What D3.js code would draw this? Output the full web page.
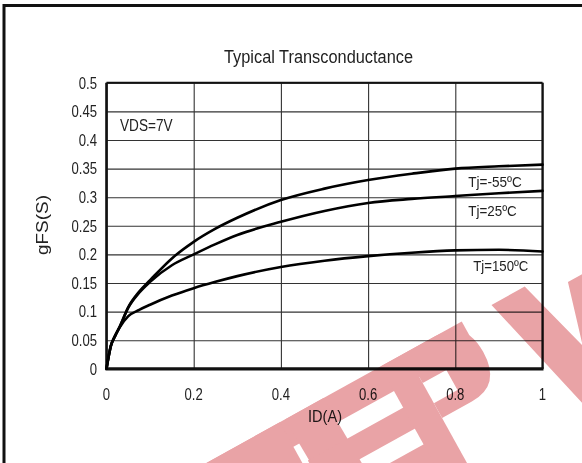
<!DOCTYPE html>
<html>
<head>
<meta charset="utf-8">
<script src="https://cdn.jsdelivr.net/npm/d3@7"></script>
<style>
html,body{margin:0;padding:0;background:#fff;}
svg{display:block;}
text{font-family:"Liberation Sans",Arial,sans-serif;fill:#222;}
</style>
</head>
<body>
<svg id="chart" width="582" height="463"></svg>
<script>
// ---- data ----
const idValues   = [0, 0.01, 0.02, 0.03, 0.05, 0.075, 0.1, 0.15, 0.2, 0.25, 0.3, 0.4, 0.5, 0.6, 0.7, 0.8, 0.9, 1.0];
const gfsTjM55   = [0, 0.040, 0.058, 0.073, 0.108, 0.135, 0.155, 0.193, 0.222, 0.245, 0.264, 0.295, 0.315, 0.330, 0.341, 0.350, 0.354, 0.357];
const gfsTj25    = [0, 0.040, 0.058, 0.073, 0.107, 0.133, 0.152, 0.181, 0.200, 0.218, 0.234, 0.257, 0.276, 0.290, 0.297, 0.302, 0.307, 0.311];
const gfsTj150   = [0, 0.040, 0.058, 0.072, 0.092, 0.103, 0.112, 0.128, 0.141, 0.152, 0.162, 0.178, 0.189, 0.197, 0.203, 0.207, 0.208, 0.205];
const seriesNames = ["Tj=-55ºC", "Tj=25ºC", "Tj=150ºC"];
const xTickValues = [0, 0.2, 0.4, 0.6, 0.8, 1];
const xTickLabels = ["0", "0.2", "0.4", "0.6", "0.8", "1"];
const yTickValues = [0, 0.05, 0.1, 0.15, 0.2, 0.25, 0.3, 0.35, 0.4, 0.45, 0.5];
const yTickLabels = ["0", "0.05", "0.1", "0.15", "0.2", "0.25", "0.3", "0.35", "0.4", "0.45", "0.5"];
const chartTitle = "Typical Transconductance";
const xTitle = "ID(A)";
const yTitle = "gFS(S)";
const condition = "VDS=7V";

// ---- layout ----
const svg = d3.select("#chart");
const L = 106.5, R = 542.5, T = 82.8, B = 368.8;
const x = d3.scaleLinear().domain([0, 1]).range([L, R]);
const y = d3.scaleLinear().domain([0, 0.5]).range([B, T]);
const SQ = 0.82; // horizontal squeeze of the original's glyphs

// outer frame
svg.append("rect").attr("x", 4).attr("y", 5.5).attr("width", 640).attr("height", 600)
  .attr("fill", "none").attr("stroke", "#111").attr("stroke-width", 3);

// grid
const g = svg.append("g");
g.append("g").attr("transform", `translate(0,${B})`)
  .call(d3.axisBottom(x).tickValues(xTickValues).tickSize(-(B - T)).tickFormat(""))
  .call(s => { s.select(".domain").remove(); s.selectAll("line").attr("stroke", "#333").attr("stroke-width", 1.1); });
g.append("g").attr("transform", `translate(${L},0)`)
  .call(d3.axisLeft(y).tickValues(yTickValues).tickSize(-(R - L)).tickFormat(""))
  .call(s => { s.select(".domain").remove(); s.selectAll("line").attr("stroke", "#333").attr("stroke-width", 1.1); });

// plot frame
g.append("line").attr("x1", L).attr("x2", L).attr("y1", T).attr("y2", B).attr("stroke", "#111").attr("stroke-width", 2.6);
g.append("line").attr("x1", R).attr("x2", R).attr("y1", T).attr("y2", B).attr("stroke", "#111").attr("stroke-width", 2.2);
g.append("line").attr("x1", L).attr("x2", R).attr("y1", T).attr("y2", T).attr("stroke", "#111").attr("stroke-width", 2);
g.append("line").attr("x1", L - 1).attr("x2", R + 1).attr("y1", B).attr("y2", B).attr("stroke", "#111").attr("stroke-width", 3.2);

// tick labels
xTickValues.forEach((v, i) => {
  svg.append("text").attr("transform", `translate(${x(v)},400) scale(${SQ},1)`)
    .attr("text-anchor", "middle").attr("font-size", 16).text(xTickLabels[i]);
});
yTickValues.forEach((v, i) => {
  svg.append("text").attr("transform", `translate(97,${y(v) + 5.8}) scale(${SQ},1)`)
    .attr("text-anchor", "end").attr("font-size", 16).text(yTickLabels[i]);
});

// titles
svg.append("text").attr("x", 318.5).attr("y", 63).attr("text-anchor", "middle")
  .attr("font-size", 17.5).attr("textLength", 189).attr("lengthAdjust", "spacingAndGlyphs").text(chartTitle);
svg.append("text").attr("x", 325).attr("y", 421.5).attr("text-anchor", "middle")
  .attr("font-size", 16.5).attr("textLength", 34).attr("lengthAdjust", "spacingAndGlyphs").text(xTitle);
svg.append("text").attr("transform", `translate(47.5,225) rotate(-90) scale(1,${SQ})`)
  .attr("text-anchor", "middle").attr("font-size", 19).attr("textLength", 60).attr("lengthAdjust", "spacingAndGlyphs").text(yTitle);
svg.append("text").attr("x", 120).attr("y", 130.7)
  .attr("font-size", 16).attr("textLength", 52.5).attr("lengthAdjust", "spacingAndGlyphs").text(condition);

// curves
const series = [gfsTjM55, gfsTj25, gfsTj150];
const line = d3.line().x(d => x(d[0])).y(d => y(d[1])).curve(d3.curveMonotoneX);
series.forEach(vals => {
  svg.append("path").datum(idValues.map((v, i) => [v, vals[i]]))
    .attr("d", line).attr("fill", "none").attr("stroke", "#000").attr("stroke-width", 2.6)
    .attr("stroke-linejoin", "round").attr("stroke-linecap", "round");
});

// series labels
const labelPos = [[468.3, 186.7, 53.5], [468.3, 216, 48.5], [473.3, 270.6, 55]];
seriesNames.forEach((n, i) => {
  svg.append("text").attr("x", labelPos[i][0]).attr("y", labelPos[i][1])
    .attr("font-size", 15).attr("textLength", labelPos[i][2]).attr("lengthAdjust", "spacingAndGlyphs").text(n);
});

// watermark (decorative, rotated logo shapes)
const wm = svg.append("g").attr("transform", "rotate(-29)")
  .style("mix-blend-mode", "multiply");
const pink = "#e9a3a6";
const poly = pts => wm.append("polygon").attr("points", pts.map(p => p.join(",")).join(" ")).attr("fill", pink);
// long top bar
poly([[-200, 505], [248, 505], [248, 533], [-200, 533]]);
// first E (mostly off-page)
poly([[-200, 505], [40, 505], [40, 556], [-200, 556]]);
poly([[-130, 505], [-90, 505], [-90, 660], [-130, 660]]);
poly([[-130, 576], [35, 576], [35, 660], [-130, 660]]);
// second E
poly([[46, 505], [90, 505], [94, 660], [50, 660]]);
poly([[46, 552], [160, 552], [160, 576], [46, 576]]);
poly([[50, 594], [160, 594], [160, 660], [50, 660]]);
// P
poly([[155, 505], [184, 505], [184, 660], [155, 660]]);
wm.append("path").attr("fill", pink).attr("fill-rule", "evenodd")
  .attr("d", "M184,505 L218,505 Q252,505 252,542 Q252,580 218,580 L184,580 Z M184,540 L211,540 L211,563 L184,563 Z");
// W
poly([[282, 505], [320, 505], [342, 585], [360, 522], [388, 522], [406, 585], [428, 505], [466, 505], [428, 660], [392, 660], [374, 595], [356, 660], [320, 660]]);
</script>
</body>
</html>
